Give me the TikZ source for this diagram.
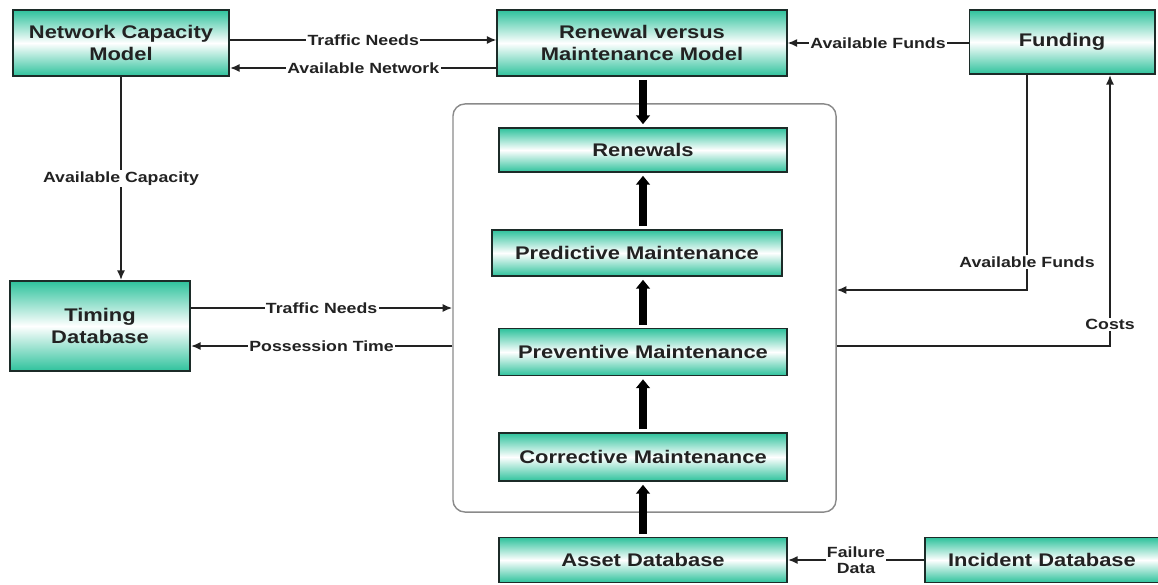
\documentclass[tikz,border=0pt]{standalone}
\usepackage{fontspec}
\setmainfont[FakeStretch=1.2]{Liberation Sans}
\usepackage{tikz}
\usepackage{xcolor}
\usetikzlibrary{arrows.meta,calc}
\definecolor{ink}    {HTML}{222222}
\definecolor{edge}   {HTML}{1C2B28}
\definecolor{teal}   {HTML}{2EC29C}
\definecolor{frameln}{HTML}{8A8A8A}
\tikzset{
  box/.style     ={draw=edge, line width=1.4pt, top color=teal, bottom color=teal,
                   middle color=white, align=center, text=ink,
                   font=\fontsize{13}{15}\selectfont\bfseries, inner sep=2pt},
  frame/.style   ={draw=frameln, line width=1pt, rounded corners=0.3cm,
                   minimum width=9.575cm, minimum height=10.2cm},
  arr/.style     ={-{Latex[length=2.4mm,width=2mm]}, line width=1.1pt, color=ink},
  bigarr/.style  ={-{Triangle[length=2.2mm,width=3.4mm]}, line width=5.5pt,
                   color=black, shorten <=2pt, shorten >=2pt},
  lbl/.style     ={fill=white, inner sep=1pt, text=ink,
                   font=\fontsize{10.5}{11}\selectfont\bfseries, align=center},
}

\begin{document}
\begin{tikzpicture}[x=0.025cm,y=-0.025cm]
  \useasboundingbox (0,0) rectangle (1158,585);

  \node[frame] (frame) at (644.5,308) {};

  \node[box,minimum width=5.4cm,minimum height=1.65cm] (ncm) at (121,43)
    {Network Capacity\\Model};
  \node[box,minimum width=7.225cm,minimum height=1.65cm] (rvm) at (642,43)
    {Renewal versus\\Maintenance Model};
  \node[box,minimum width=4.625cm,minimum height=1.6cm] (fund) at (1062,42) {Funding};
  \node[box,minimum width=4.5cm,minimum height=2.25cm] (tdb) at (100,326)
    {Timing\\Database};

  \node[box,minimum width=7.2cm,minimum height=1.1cm] (ren) at (643,150) {Renewals};
  \node[box,minimum width=7.225cm,minimum height=1.15cm] (pdm) at (637,253)
    {Predictive Maintenance};
  \node[box,minimum width=7.2cm,minimum height=1.175cm] (pvm) at (643,352)
    {Preventive Maintenance};
  \node[box,minimum width=7.2cm,minimum height=1.2cm] (cor) at (643,457)
    {Corrective Maintenance};
  \node[box,minimum width=7.2cm,minimum height=1.125cm] (adb) at (643,560)
    {Asset Database};
  \node[box,minimum width=5.85cm,minimum height=1.125cm] (idb) at (1042,560)
    {Incident Database};

  % main flow
  \draw[bigarr] (rvm.south -| ren.north) -- (ren.north);
  \draw[bigarr] (pdm.north -| ren.south) -- (ren.south);
  \draw[bigarr] (pvm.north) -- (pdm.south -| pvm.north);
  \draw[bigarr] (cor.north) -- (pvm.south);
  \draw[bigarr] (adb.north) -- (cor.south);

  % exchanges
  \draw[arr] (ncm.east |- 0,40) -- node[lbl]{Traffic Needs} (rvm.west |- 0,40);
  \draw[arr] (rvm.west |- 0,68) -- node[lbl]{Available Network} (ncm.east |- 0,68);
  \draw[arr] (fund.west |- rvm.east) -- node[lbl]{Available Funds} (rvm.east);
  \draw[arr] (ncm.south) -- node[lbl]{Available Capacity} (ncm.south |- tdb.north);
  \draw[arr] (tdb.east |- 0,308) -- node[lbl]{Traffic Needs} (frame.west |- 0,308);
  \draw[arr] (frame.west |- 0,346) -- node[lbl]{Possession Time} (tdb.east |- 0,346);
  \draw[arr] (fund.south -| 1027,0) -- node[lbl,pos=0.87]{Available Funds} (1027,290)
    -- (frame.east |- 0,290);
  \draw[arr] (frame.east |- 0,346) -- (1110,346)
    -- node[lbl,pos=0.08]{Costs} (fund.south -| 1110,0);
  \draw[arr] (idb.west) -- node[lbl]{Failure\\Data} (adb.east);
\end{tikzpicture}
\end{document}
